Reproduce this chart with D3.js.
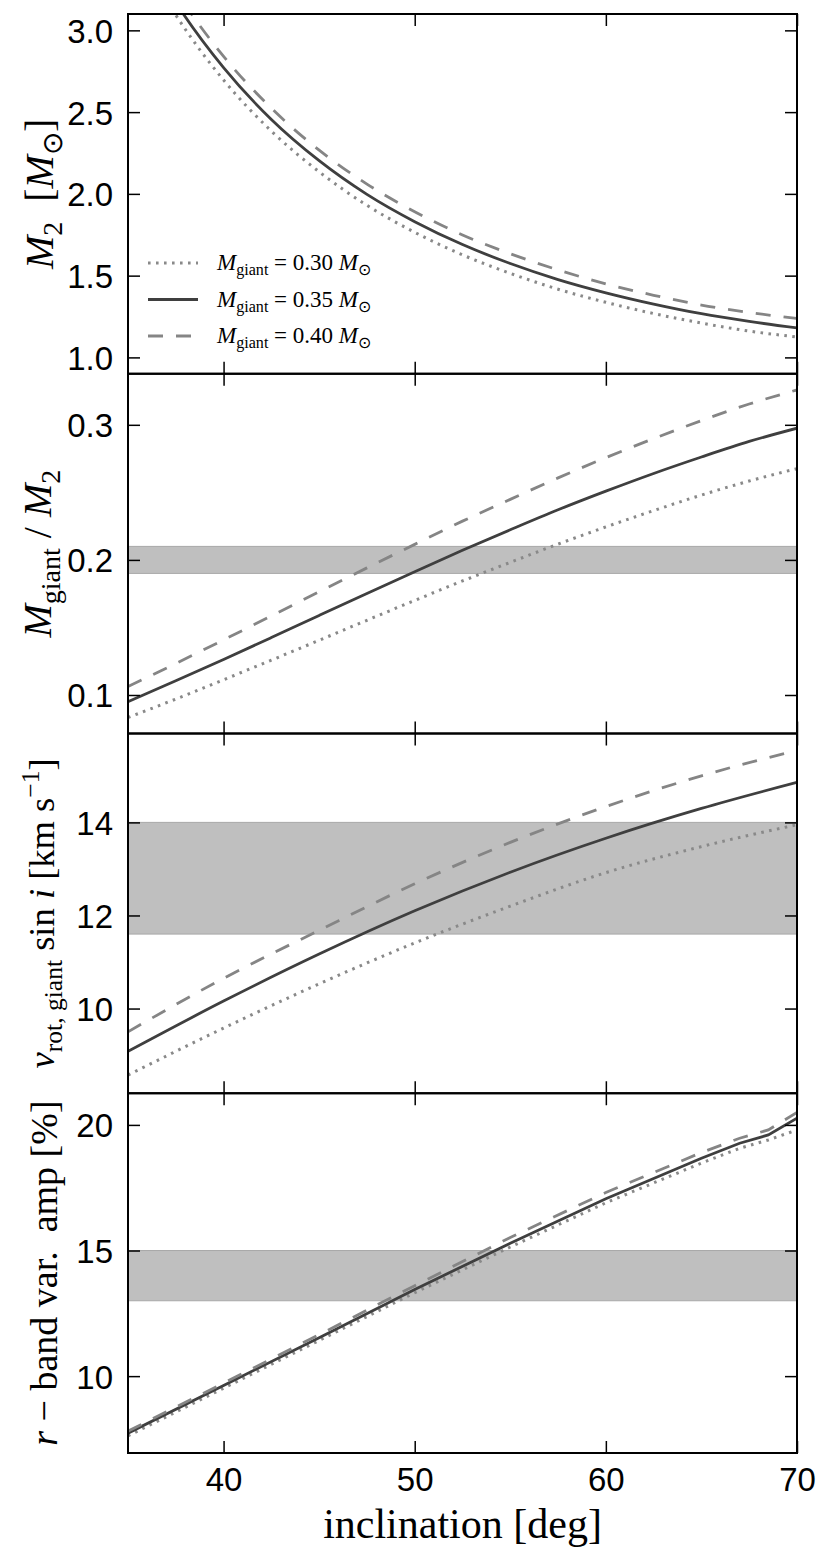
<html>
<head>
<style>
  body { margin: 0; background: #fff; }
  .tick text { font-family: "Liberation Sans", Arial, sans-serif; font-size: 33px; fill: #000; }
  .tick line { stroke: #000; stroke-width: 1.5px; }
  .lbl { font-family: "Liberation Serif", "Times New Roman", serif; fill: #000; }
</style>
</head>
<body>
<svg id="fig" width="831" height="1560"></svg>
<script src="https://d3js.org/d3.v7.min.js"></script>
<script>
// inclination grids [deg]
const inclGrid = [35, 37.5, 40, 42.5, 45, 47.5, 50, 52.5, 55, 57.5, 60, 62.5, 65, 67.5, 70]
const inclCoarse = [35, 40, 45, 50, 55, 60, 65, 70]
const inclAmp = [35, 40, 45, 50, 55, 60, 65, 67, 68.5, 70]

// panel 1: M2 [Msun]
const m2Dotted = [3.60, 3.094, 2.696, 2.384, 2.135, 1.930, 1.765, 1.627, 1.514, 1.417, 1.337, 1.268, 1.210, 1.161, 1.125]
const m2Solid  = [3.68, 3.170, 2.772, 2.455, 2.203, 1.997, 1.830, 1.690, 1.574, 1.476, 1.395, 1.326, 1.267, 1.220, 1.180]
const m2Dashed = [3.76, 3.244, 2.841, 2.524, 2.267, 2.060, 1.891, 1.749, 1.634, 1.535, 1.450, 1.380, 1.320, 1.275, 1.238]

// panel 2: Mgiant / M2
const qDotted = [0.0833, 0.0970, 0.1113, 0.1258, 0.1405, 0.1553, 0.1700, 0.1844, 0.1982, 0.2117, 0.2244, 0.2365, 0.2480, 0.2584, 0.2676]
const qSolid  = [0.0950, 0.1105, 0.1263, 0.1425, 0.1589, 0.1752, 0.1913, 0.2071, 0.2223, 0.2371, 0.2509, 0.2640, 0.2762, 0.2877, 0.2975]
const qDashed = [0.1063, 0.1233, 0.1408, 0.1585, 0.1764, 0.1941, 0.2115, 0.2287, 0.2448, 0.2607, 0.2757, 0.2898, 0.3031, 0.3154, 0.3258]

// panel 3: v_rot sin i [km/s]
const vDotted = [8.57, 9.58, 10.53, 11.41, 12.20, 12.92, 13.48, 13.95]
const vSolid  = [9.08, 10.16, 11.17, 12.10, 12.93, 13.66, 14.30, 14.86]
const vDashed = [9.50, 10.65, 11.68, 12.68, 13.57, 14.34, 15.00, 15.55]

// panel 4: r-band variability amplitude [%]
const ampDotted = [7.62, 9.52, 11.42, 13.32, 15.14, 16.90, 18.48, 19.07, 19.40, 19.80]
const ampSolid  = [7.73, 9.63, 11.53, 13.45, 15.29, 17.06, 18.67, 19.27, 19.60, 20.27]
const ampDashed = [7.81, 9.72, 11.65, 13.60, 15.52, 17.31, 18.90, 19.47, 19.80, 20.50]

// shaded observational ranges
const qBand = [0.19, 0.21]
const vBand = [11.6, 14.0]
const ampBand = [13, 15]

const xTicks = [40, 50, 60, 70]
const legendLabels = ["0.30", "0.35", "0.40"]

const styles = [
  { stroke: "#898989", width: 3, dash: "2.6,5.4" },   // 0.30
  { stroke: "#3f3f3f", width: 2.8, dash: null },      // 0.35
  { stroke: "#858585", width: 2.8, dash: "15,13" }    // 0.40
]

const panels = [
  { domain: [0.9, 3.1], ticks: [1.0, 1.5, 2.0, 2.5, 3.0], fmt: d3.format(".1f"), band: null,
    x: inclGrid, series: [m2Dotted, m2Solid, m2Dashed], curve: d3.curveMonotoneX, labelX: 53, labelSize: 40,
    label: [["M", "i"], ["2", "sub"], ["  [", "n"], ["M", "i"], ["\u2299", "sub"], ["]", "n"]] },
  { domain: [0.0715, 0.3378], ticks: [0.1, 0.2, 0.3], fmt: d3.format(".1f"), band: qBand,
    x: inclGrid, series: [qDotted, qSolid, qDashed], curve: d3.curveMonotoneX, labelX: 51, labelSize: 40,
    label: [["M", "i"], ["giant", "sub"], [" / ", "n"], ["M", "i"], ["2", "sub"]] },
  { domain: [8.18, 15.91], ticks: [10, 12, 14], fmt: d3.format("d"), band: vBand,
    x: inclCoarse, series: [vDotted, vSolid, vDashed], curve: d3.curveMonotoneX, labelX: 54, labelSize: 36.5,
    label: [["v", "i"], ["rot, giant", "sub"], [" sin ", "n"], ["i", "i"], [" [km s", "n"], ["\u22121", "sup"], ["]", "n"]] },
  { domain: [6.94, 21.26], ticks: [10, 15, 20], fmt: d3.format("d"), band: ampBand,
    x: inclAmp, series: [ampDotted, ampSolid, ampDashed], curve: d3.curveLinear, labelX: 57, labelSize: 38,
    label: [["r", "i"], [" \u2212 band var.  amp [%]", "n"]] }
]

const svg = d3.select("#fig")
const left = 128, right = 797, top0 = 14, bottom = 1453
const panelH = (bottom - top0) / panels.length

let xScale = d3.scaleLinear().domain([35, 70]).range([left, right])

// writes math-ish text with italic / sub / sup pieces
function richText(sel, segs, size) {
  let shift = 0
  segs.forEach(([t, s]) => {
    let target = 0, fs = size
    if (s === "sub") { target = 0.22 * size; fs = 0.7 * size }
    if (s === "sup") { target = -0.4 * size; fs = 0.7 * size }
    let ts = sel.append("tspan").text(t).attr("font-size", fs).attr("dy", target - shift)
    if (s === "i") ts.attr("font-style", "italic")
    shift = target
  })
}

panels.forEach((p, k) => {
  let y0 = top0 + k * panelH, y1 = y0 + panelH
  let yScale = d3.scaleLinear().domain(p.domain).range([y1, y0])

  svg.append("clipPath").attr("id", "clip" + k)
    .append("rect").attr("x", left).attr("y", y0).attr("width", right - left).attr("height", panelH)

  let body = svg.append("g").attr("clip-path", "url(#clip" + k + ")")

  if (p.band) {
    body.append("rect")
      .attr("x", left).attr("width", right - left)
      .attr("y", yScale(p.band[1]))
      .attr("height", yScale(p.band[0]) - yScale(p.band[1]))
      .attr("fill", "#bfbfbf")
      .attr("stroke", "#a9a9a9")
      .attr("stroke-width", 1)
  }

  p.series.forEach((vals, j) => {
    let line = d3.line()
      .x((d, i) => xScale(p.x[i]))
      .y(d => yScale(d))
      .curve(p.curve)
    body.append("path")
      .datum(vals)
      .attr("d", line)
      .attr("fill", "none")
      .attr("stroke", styles[j].stroke)
      .attr("stroke-width", styles[j].width)
      .attr("stroke-dasharray", styles[j].dash)
  })

  // axes with inward ticks on all four sides
  let gl = svg.append("g").attr("transform", "translate(" + left + ",0)")
    .call(d3.axisLeft(yScale).tickValues(p.ticks).tickFormat(p.fmt).tickSize(-12).tickPadding(15))
  let gr = svg.append("g").attr("transform", "translate(" + right + ",0)")
    .call(d3.axisRight(yScale).tickValues(p.ticks).tickFormat("").tickSize(-12))
  let gt = svg.append("g").attr("transform", "translate(0," + y0 + ")")
    .call(d3.axisTop(xScale).tickValues(xTicks).tickFormat("").tickSize(-12))
  let gb = svg.append("g").attr("transform", "translate(0," + y1 + ")")
    .call(d3.axisBottom(xScale).tickValues(xTicks).tickSize(-12).tickPadding(14)
      .tickFormat(k === panels.length - 1 ? d3.format("d") : ""))
  ;[gl, gr, gt, gb].forEach(g => g.select("path.domain").remove())
  gl.selectAll(".tick text").attr("dy", "0.36em")
  gb.selectAll(".tick text").attr("dy", "0.74em")

  svg.append("rect")
    .attr("x", left).attr("y", y0).attr("width", right - left).attr("height", panelH)
    .attr("fill", "none").attr("stroke", "#000").attr("stroke-width", 2)

  // y label
  let cy = (y0 + y1) / 2
  let lbl = svg.append("text").attr("class", "lbl")
    .attr("x", p.labelX).attr("y", cy)
    .attr("text-anchor", "middle")
    .attr("transform", "rotate(-90," + p.labelX + "," + cy + ")")
    .style("white-space", "pre")
  richText(lbl, p.label, p.labelSize)
})

// x label
svg.append("text").attr("class", "lbl")
  .attr("x", (left + right) / 2).attr("y", 1538)
  .attr("text-anchor", "middle").attr("font-size", 42)
  .text("inclination [deg]")

// legend in the top panel
legendLabels.forEach((m, j) => {
  let ly = 263 + j * 36.5
  svg.append("line")
    .attr("x1", 148).attr("x2", 198).attr("y1", ly).attr("y2", ly)
    .attr("stroke", styles[j].stroke)
    .attr("stroke-width", styles[j].width)
    .attr("stroke-dasharray", styles[j].dash)
  let t = svg.append("text").attr("class", "lbl").attr("x", 217).attr("y", ly + 7)
  richText(t, [["M", "i"], ["giant", "sub"], [" = " + m + " ", "n"], ["M", "i"], ["\u2299", "sub"]], 23)
})
</script>
</body>
</html>
